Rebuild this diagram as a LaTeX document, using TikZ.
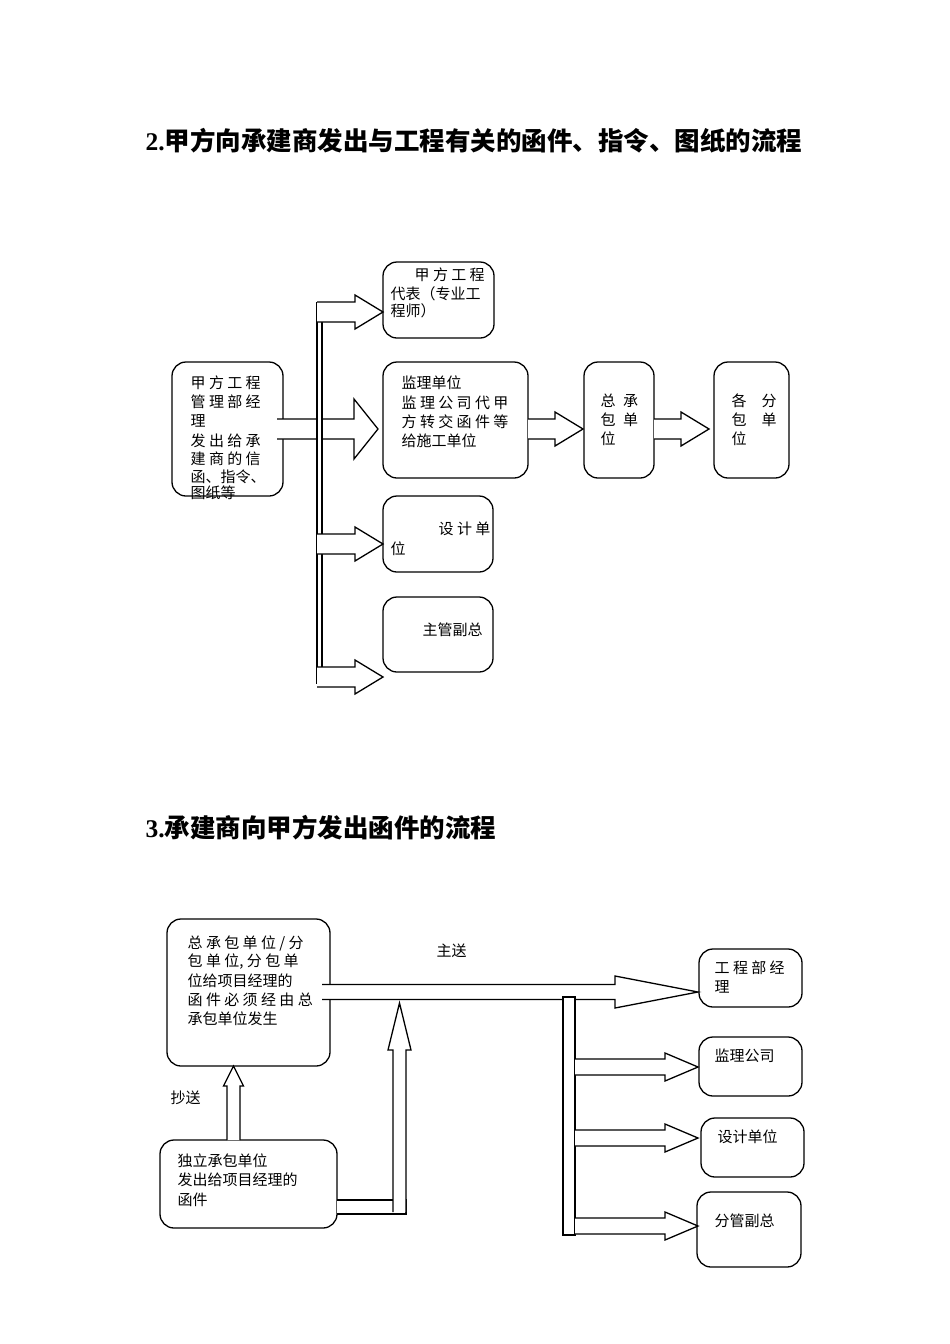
\documentclass[tikz,border=0pt]{standalone}
\usepackage{fontspec}
\setmainfont{Liberation Serif}
\newfontfamily\cjk{Noto Sans CJK SC}
\newfontfamily\cjkb{Noto Sans CJK SC Bold}
\newcommand\harr[6]{\draw[fill=white] (#1,#3-#4) -- (#2-#6,#3-#4) -- (#2-#6,#3-#5) -- (#2,#3) -- (#2-#6,#3+#5) -- (#2-#6,#3+#4) -- (#1,#3+#4);}
\newcommand\varr[6]{\draw[fill=white] (#3-#4,#1) -- (#3-#4,#2+#6) -- (#3-#5,#2+#6) -- (#3,#2) -- (#3+#5,#2+#6) -- (#3+#4,#2+#6) -- (#3+#4,#1);}
\begin{document}
\begin{tikzpicture}[x=1pt,y=-1pt,line width=1.3pt,
  box/.style={draw,rounded corners=14pt,line width=1.3pt},
  t/.style={anchor=west,inner sep=0pt,font=\cjk\fontsize{15}{16}\selectfont},
  title/.style={anchor=west,inner sep=0pt,font=\fontsize{25.5}{28}\selectfont\bfseries}]
\useasboundingbox (0,0) rectangle (950,1344);
% titles
\node[title] (t1) at (145,141) {2.{\cjkb 甲方向承建商发出与工程有关的函件、指令、图纸的流程}};
\node[title] (t2) at (145,828) {3.{\cjkb 承建商向甲方发出函件的流程}};
% ===== top diagram
\draw[box] (172,362) rectangle (283,496);
\draw[box] (383,262) rectangle (494,338);
\draw[box] (383,362) rectangle (528,478);
\draw[box] (584,362) rectangle (654,478);
\draw[box] (714,362) rectangle (789,478);
\draw[box] (383,496) rectangle (493,572);
\draw[box] (383,597) rectangle (493,672);
\harr{277}{378}{429}{10}{30}{24}
\draw[fill=white] (317,303) rectangle (322,683);
\harr{317}{383}{312}{10}{17}{28}
\harr{317}{383}{544}{10}{17}{28}
\harr{317}{383}{677}{10}{17}{28}
\harr{528}{583}{429}{10}{17}{28}
\harr{654}{709}{429}{10}{17}{28}
% texts
\node[t] at (190,383) {甲 方 工 程};
\node[t] at (190,402) {管 理 部 经};
\node[t] at (190,421) {理};
\node[t] at (190,441) {发 出 给 承};
\node[t] at (190,459) {建 商 的 信};
\node[t] at (190,477) {函、指令、};
\node[t] at (190,493) {图纸等};
\node[t] at (414,275) {甲 方 工 程};
\node[t] at (390,294) {代表（专业工};
\node[t] at (390,311) {程师）};
\node[t] at (401,383) {监理单位};
\node[t] at (401,403) {监 理 公 司 代 甲};
\node[t] at (401,422) {方 转 交 函 件 等};
\node[t] at (401,441) {给施工单位};
\node[t] at (600,401) {总\enspace 承};
\node[t] at (600,420) {包\enspace 单};
\node[t] at (600,439) {位};
\node[t] at (731,401) {各\quad 分};
\node[t] at (731,420) {包\quad 单};
\node[t] at (731,439) {位};
\node[t] at (438,529) {设 计 单};
\node[t] at (390,549) {位};
\node[t] at (422,630) {主管副总};
% ===== bottom diagram
\draw[box] (167,919) rectangle (330,1066);
\draw[box] (160,1140) rectangle (337,1228);
\draw[box] (699,949) rectangle (802,1007);
\draw[box] (699,1037) rectangle (802,1096);
\draw[box] (701,1118) rectangle (804,1177);
\draw[box] (697,1192) rectangle (801,1267);
\harr{322}{698}{992}{7.5}{16}{83}
\varr{1140}{1066}{233.5}{6.5}{10}{20}
\draw[fill=white] (337,1200) -- (406,1200) -- (406,1214) -- (337,1214);
\varr{1212}{1003}{399.5}{6.5}{11.5}{47}
\draw[fill=white] (563,997) rectangle (575,1235);
\harr{575}{698}{1067}{8}{14}{33}
\harr{575}{698}{1138}{8}{14}{33}
\harr{575}{698}{1226}{8}{14}{33}
\node[t] at (187,943) {总 承 包 单 位 / 分};
\node[t] at (187,962) {包 单 位, 分 包 单};
\node[t] at (187,981) {位给项目经理的};
\node[t] at (187,1000) {函 件 必 须 经 由 总};
\node[t] at (187,1019) {承包单位发生};
\node[t] at (436,951) {主送};
\node[t] at (170,1098) {抄送};
\node[t] at (177,1161) {独立承包单位};
\node[t] at (177,1180) {发出给项目经理的};
\node[t] at (177,1200) {函件};
\node[t] at (714,968) {工 程 部 经};
\node[t] at (714,987) {理};
\node[t] at (714,1056) {监理公司};
\node[t] at (717,1137) {设计单位};
\node[t] at (714,1221) {分管副总};
\end{tikzpicture}
\end{document}
